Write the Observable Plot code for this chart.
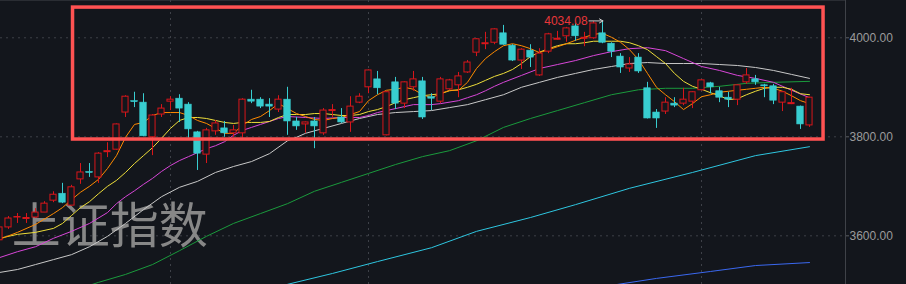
<!DOCTYPE html>
<html><head><meta charset="utf-8">
<script src="https://cdn.jsdelivr.net/npm/d3@7"></script>
<script src="https://cdn.jsdelivr.net/npm/@observablehq/plot@0.6"></script>
<style>html,body{margin:0;padding:0;background:#13161c;overflow:hidden}</style>
</head><body><div id="chart"></div>
<script>
// trading-day index (first one is partially cut at the left edge)
const days = d3.range(-1, 90);
const opens = [3591,3617,3637,3634,3637,3647,3671,3685,3661,3714,3729,3718,3769,3774,3849,3872,3869,3799,3845,3871,
  3877,3865,3809,3764,3811,3817,3807,3807,3875,3875,3865,3855,3875,3831,3825,3831,3807,3852,3839,3829,
  3869,3900,3916,3803,3910,3867,3900,3912,3880,3871,3896,3904,3930,3970,3987,3990,4009,3984,3954,3974,
  3924,3972,3996,4003,4023,3998,3999,4009,3988,3962,3938,3960,3898,3849,3851,3867,3867,3871,3894,3908,
  3892,3879,3875,3910,3916,3904,3902,3869,3866,3861,3823];
const highs = [3621,3639,3645,3645,3655,3669,3689,3706,3702,3746,3746,3768,3788,3826,3883,3890,3887,3845,3865,3881,
  3885,3869,3811,3817,3833,3831,3823,3877,3894,3879,3877,3883,3900,3839,3830,3839,3857,3865,3857,3881,
  3887,3935,3932,3891,3920,3911,3932,3920,3887,3920,3916,3930,3954,3998,4011,4018,4025,3986,3978,3986,
  3978,4009,4013,4021,4029,4011,4033,4034.08,3990,3968,3960,3968,3910,3855,3879,3879,3898,3891,3915,3910,
  3900,3890,3905,3938,3924,3906,3906,3891,3898,3862,3880];
const lows = [3589,3613,3625,3625,3635,3647,3667,3665,3661,3704,3718,3706,3758,3773,3839,3859,3800,3762,3839,3853,
  3829,3797,3732,3746,3803,3799,3799,3797,3867,3857,3839,3849,3803,3813,3807,3776,3803,3839,3827,3809,
  3867,3887,3885,3802,3855,3857,3892,3835,3853,3867,3894,3879,3928,3962,3976,3986,3985,3952,3936,3940,
  3922,3968,3995,3991,3993,3982,3997,3988,3960,3928,3930,3928,3836,3817,3845,3859,3863,3857,3893,3887,
  3869,3859,3863,3906,3904,3879,3865,3851,3865,3815,3819];
const closes = [3617,3635,3638,3636,3647,3665,3683,3667,3698,3728,3727,3766,3771,3825,3881,3870,3801,3843,3857,3875,
  3857,3815,3766,3813,3827,3807,3813,3875,3871,3861,3861,3875,3831,3821,3829,3821,3853,3854,3829,3861,
  3881,3934,3898,3890,3867,3910,3916,3839,3877,3916,3914,3922,3950,3997,3989,4017,3986,3954,3976,3960,
  3968,4007,3998,4019,4003,4000,4029,3990,3972,3940,3946,3932,3837,3837,3869,3863,3875,3890,3914,3900,
  3879,3875,3904,3924,3910,3902,3873,3890,3868,3825,3879];

// moving averages: [day, value]
const ma5 = [[-1,3593],[1,3607],[3,3623],[5,3645],[6,3657],[7,3673],[8,3688],[9,3700],[10,3714],[11,3736],[12,3762],[13,3799],
  [14,3825],[15,3829],[16,3843],[17,3849],[18,3849],[19,3849],[20,3843],[21,3833],[22,3827],[23,3817],[24,3807],[25,3807],
  [26,3823],[27,3835],[28,3841],[29,3853],[30,3867],[31,3857],[32,3847],[33,3841],[34,3835],[35,3833],[36,3837],[37,3839],
  [38,3845],[39,3851],[40,3873],[41,3885],[42,3894],[43,3896],[44,3900],[45,3896],[46,3885],[47,3879],[48,3887],[49,3894],
  [50,3894],[51,3910],[52,3938],[53,3958],[54,3972],[55,3984],[56,3988],[57,3984],[58,3978],[59,3970],[60,3976],[61,3982],
  [62,3988],[63,3995],[64,4001],[65,4007],[66,4009],[67,4001],[68,3991],[69,3976],[70,3956],[71,3928],[72,3900],[73,3885],
  [74,3871],[75,3855],[76,3867],[77,3881],[78,3885],[79,3890],[80,3892],[81,3894],[82,3896],[83,3898],[84,3900],[85,3898],
  [86,3892],[87,3883],[88,3873],[89,3867]];
const ma10 = [[-1,3595],[1,3603],[3,3607],[5,3615],[6,3625],[7,3641],[8,3657],[9,3669],[10,3685],[11,3700],[12,3712],[13,3728],
  [14,3746],[15,3762],[16,3778],[17,3797],[18,3817],[19,3833],[20,3839],[21,3839],[22,3837],[23,3833],[24,3829],[25,3827],
  [26,3829],[27,3829],[28,3829],[29,3831],[30,3839],[31,3845],[32,3845],[33,3845],[34,3847],[35,3847],[36,3845],[37,3843],
  [38,3843],[39,3845],[40,3851],[41,3855],[42,3861],[43,3869],[44,3875],[45,3879],[46,3883],[47,3885],[48,3887],[49,3893],
  [50,3895],[51,3900],[52,3906],[53,3914],[54,3922],[55,3928],[56,3936],[57,3948],[58,3962],[59,3971],[60,3978],[61,3984],
  [62,3988],[63,3988],[64,3990],[65,3993],[66,3993],[67,3993],[68,3993],[69,3990],[70,3984],[71,3976],[72,3962],[73,3948],
  [74,3928],[75,3912],[76,3902],[77,3896],[78,3889],[79,3883],[80,3875],[81,3877],[82,3885],[83,3892],[84,3898],[85,3900],
  [86,3900],[87,3896],[88,3887],[89,3885]];
const ma20 = [[-1,3556],[1,3568],[3,3578],[5,3595],[7,3609],[9,3625],[11,3647],[12,3665],[13,3679],[14,3691],[15,3704],[16,3716],
  [17,3730],[18,3742],[19,3752],[20,3760],[21,3768],[22,3776],[23,3782],[24,3790],[25,3803],[26,3813],[27,3819],[28,3825],
  [29,3831],[30,3837],[31,3841],[33,3839],[35,3837],[37,3839],[39,3839],[40,3843],[41,3849],[42,3853],[43,3857],[44,3861],
  [45,3865],[47,3865],[48,3867],[50,3873],[51,3879],[52,3885],[53,3893],[54,3902],[55,3910],[57,3924],[59,3938],[61,3946],
  [63,3954],[65,3964],[67,3972],[69,3978],[71,3980],[73,3974],[75,3958],[77,3942],[79,3934],[81,3924],[83,3918],[85,3910],
  [87,3894],[89,3879]];
const ma30 = [[-1,3526],[1,3532],[3,3542],[5,3552],[7,3562],[9,3578],[11,3599],[13,3625],[15,3653],[17,3679],[19,3698],[21,3710],
  [23,3728],[25,3740],[27,3750],[29,3766],[31,3792],[32,3799],[33,3807],[35,3817],[37,3827],[39,3837],[41,3845],[43,3849],
  [45,3851],[47,3853],[49,3859],[51,3865],[53,3875],[55,3885],[57,3900],[59,3910],[61,3920],[63,3928],[65,3936],[67,3942],
  [69,3948],[71,3950],[73,3948],[75,3948],[77,3948],[79,3946],[81,3944],[83,3940],[85,3934],[87,3926],[89,3918]];
const ma60 = [[9,3500],[10,3506],[13,3522],[16,3542],[19,3570],[22,3599],[25,3625],[28,3645],[31,3665],[34,3690],[37,3708],
  [40,3726],[43,3744],[46,3760],[49,3772],[52,3792],[55,3819],[58,3837],[61,3853],[64,3869],[67,3885],[70,3895],[73,3898],
  [76,3898],[79,3902],[82,3908],[85,3910],[89,3912]];
const ma120 = [[31,3502],[36,3524],[41,3548],[47,3576],[52,3609],[58,3637],[63,3663],[69,3696],[76,3728],[83,3762],[89,3780]];
const ma250 = [[67,3500],[72,3514],[78,3528],[83,3540],[89,3546]];

const yTicks = [3600, 3800, 4000];
const monthStarts = [18, 40, 77];
const peak = {day: 66, value: 4034.08, label: "4034.08"};
const title = "上证指数";

const BG = "#13161c", RED = "#d8161b", CYAN = "#38cdd0";
const candles = days.map((d, i) => ({d, o: opens[i], h: highs[i], l: lows[i], c: closes[i]}));
const up = candles.filter(c => c.c >= c.o);
const down = candles.filter(c => c.c < c.o);
const line = (data, color) => Plot.line(data, {x: d => d[0], y: d => d[1], stroke: color, strokeWidth: 1, clip: true});

const chart = Plot.plot({
  width: 906, height: 284,
  marginLeft: 0, marginRight: 61, marginTop: 0, marginBottom: 0,
  style: {background: BG, color: "#9a9a9a", fontFamily: "'Liberation Sans', Arial, sans-serif", fontSize: "12px"},
  x: {type: "linear", domain: [-0.889, 93], axis: null},
  y: {domain: [3501.7, 4075.3], axis: null},
  marks: [
    Plot.frame({anchor: "top", stroke: "#2a2d33"}),
    Plot.ruleY(yTicks, {stroke: "#3e4148", strokeDasharray: "2,4"}),
    Plot.ruleX(monthStarts, {stroke: "#3e4148", strokeDasharray: "2,4"}),
    Plot.ruleX([93], {stroke: "#3f4248"}),
    Plot.text([title], {x: 0.35, y: 3617, text: d => d, textAnchor: "start", lineAnchor: "middle",
      fontSize: 49, fill: "#878787", fontFamily: "'Noto Sans CJK SC', sans-serif"}),
    line(ma250, "#3a68f0"),
    line(ma120, "#2ec6e0"),
    line(ma60, "#1a9a3c"),
    line(ma30, "#c8c8c8"),
    line(ma20, "#d846d8"),
    line(ma10, "#eede3a"),
    line(ma5, "#ff8a00"),
    Plot.ruleX(up, {x: "d", y1: "l", y2: "h", stroke: RED, strokeWidth: 1, clip: true}),
    Plot.ruleX(down, {x: "d", y1: "l", y2: "h", stroke: CYAN, strokeWidth: 1, clip: true}),
    Plot.rect(up, {x1: d => d.d - 0.34, x2: d => d.d + 0.34, y1: "o", y2: "c", fill: BG, stroke: RED, strokeWidth: 1, clip: true}),
    Plot.rect(down, {x1: d => d.d - 0.36, x2: d => d.d + 0.36, y1: "o", y2: "c", fill: CYAN, stroke: CYAN, strokeWidth: 0.6, clip: true}),
    Plot.rect([0], {x1: 7.17, x2: 90.56, y1: 3794.5, y2: 4061, fill: "none", stroke: "#ff5252", strokeWidth: 3.5}),
    Plot.text([peak], {x: 64.35, y: "value", text: "label", textAnchor: "end", fill: "#e8363a", fontSize: 12}),
    Plot.arrow([peak], {x1: 64.5, x2: d => d.day + 0.05, y1: "value", y2: "value", stroke: "#cfcfcf", strokeWidth: 1, headLength: 6}),
    Plot.axisY(yTicks, {anchor: "right", tickFormat: d => d.toFixed(2), tickSize: 3, tickPadding: 1, fontSize: 12, stroke: "#5a5d63", fill: "#9b9b9b"})
  ]
});
document.getElementById("chart").appendChild(chart);
</script>
</body></html>
